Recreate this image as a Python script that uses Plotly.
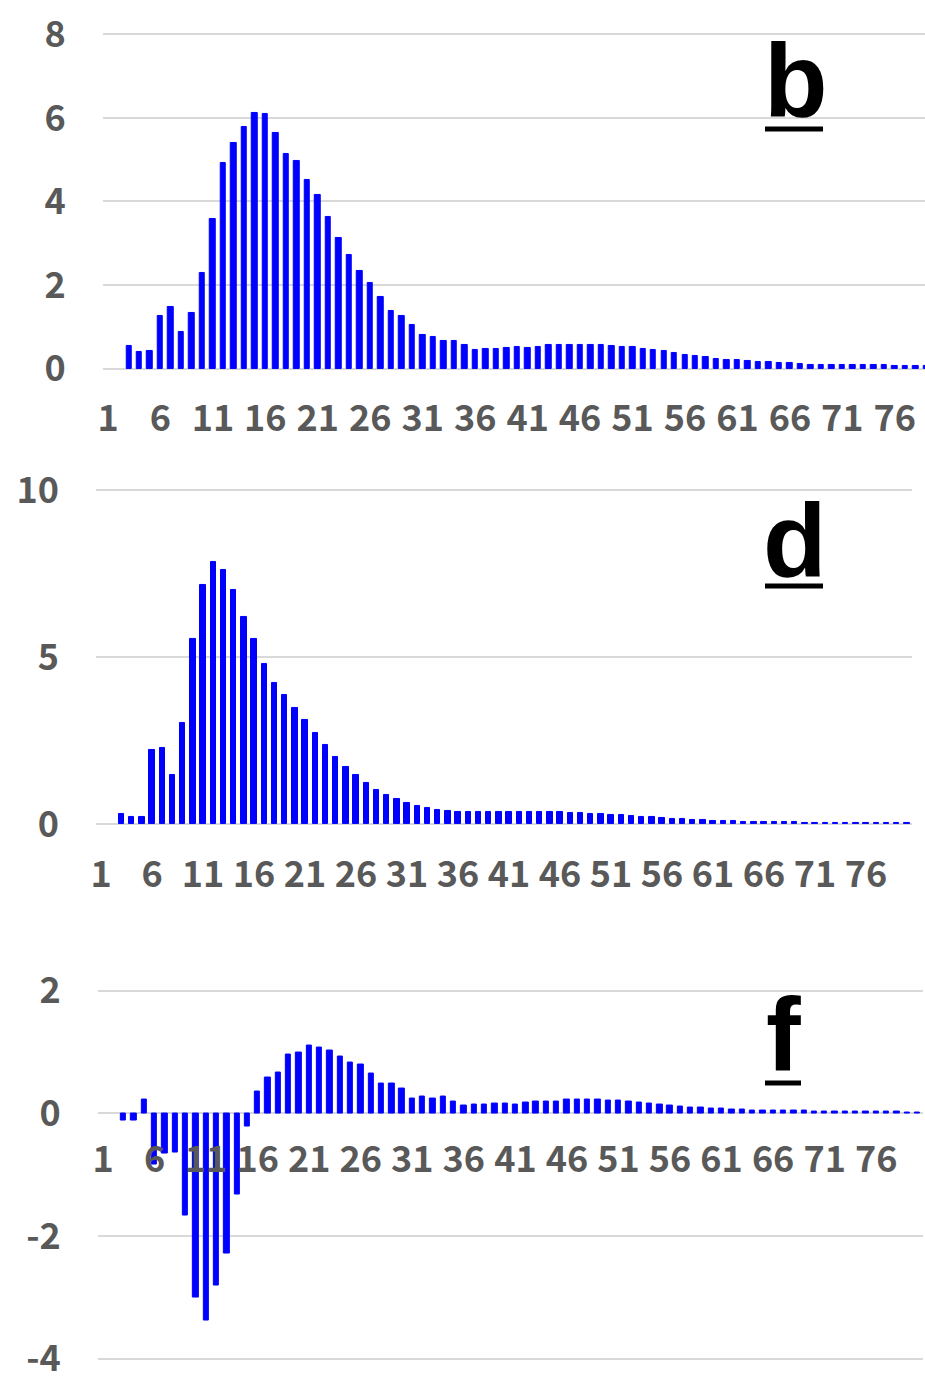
import plotly.graph_objects as go

# Category positions 1..80 and labelled ticks every fifth category
categories = list(range(1, 81))
tick_values = list(range(1, 80, 5))

b_values = [None, None, 0.54, 0.39, 0.42, 1.27, 1.48, 0.89, 1.34, 2.28,
            3.58, 4.93, 5.39, 5.79, 6.13, 6.09, 5.65, 5.13, 4.96, 4.51,
            4.15, 3.64, 3.13, 2.72, 2.34, 2.04, 1.72, 1.38, 1.25, 1.05,
            0.81, 0.77, 0.67, 0.66, 0.56, 0.46, 0.48, 0.48, 0.50, 0.51,
            0.50, 0.53, 0.56, 0.56, 0.56, 0.58, 0.57, 0.57, 0.55, 0.53,
            0.51, 0.47, 0.44, 0.42, 0.37, 0.34, 0.30, 0.27, 0.24, 0.22,
            0.20, 0.18, 0.16, 0.15, 0.14, 0.13, 0.11, 0.10, 0.10, 0.10,
            0.10, 0.09, 0.09, 0.08, 0.08, 0.07, 0.07, 0.07, 0.07, 0.06]

d_values = [None, None, 0.30, 0.23, 0.22, 2.23, 2.28, 1.49, 3.04, 5.56,
            7.16, 7.85, 7.61, 7.01, 6.22, 5.54, 4.80, 4.23, 3.86, 3.49,
            3.12, 2.73, 2.37, 2.01, 1.71, 1.47, 1.24, 1.04, 0.87, 0.75,
            0.63, 0.54, 0.48, 0.42, 0.39, 0.36, 0.36, 0.36, 0.36, 0.36,
            0.36, 0.36, 0.36, 0.36, 0.36, 0.36, 0.35, 0.33, 0.32, 0.30,
            0.28, 0.27, 0.25, 0.23, 0.21, 0.19, 0.17, 0.15, 0.13, 0.12,
            0.11, 0.10, 0.09, 0.08, 0.07, 0.06, 0.06, 0.06, 0.06, 0.05,
            0.05, 0.05, 0.05, 0.05, 0.05, 0.04, 0.04, 0.04, 0.04, 0.04]

f_values = [None, None, -0.11, -0.11, 0.23, -0.84, -0.65, -0.64, -1.67, -3.00,
            -3.37, -2.80, -2.28, -1.33, -0.22, 0.35, 0.59, 0.67, 0.96, 0.99,
            1.11, 1.08, 1.03, 0.93, 0.83, 0.79, 0.65, 0.48, 0.48, 0.41,
            0.24, 0.28, 0.24, 0.27, 0.20, 0.12, 0.14, 0.15, 0.16, 0.16,
            0.14, 0.17, 0.19, 0.19, 0.20, 0.22, 0.22, 0.23, 0.22, 0.21,
            0.21, 0.19, 0.17, 0.16, 0.15, 0.12, 0.11, 0.09, 0.09, 0.08,
            0.07, 0.06, 0.06, 0.05, 0.05, 0.04, 0.04, 0.04, 0.04, 0.03,
            0.03, 0.03, 0.03, 0.03, 0.03, 0.03, 0.03, 0.03, 0.02, 0.02]

b_ticks = [0, 2, 4, 6, 8]
d_ticks = [0, 5, 10]
f_ticks = [-4, -2, 0, 2]
f_tick_text = ["-4", "-2", "0", "2"]

panel_labels = ["b", "d", "f"]

W, H = 925, 1382


def fx(px):
    return px / W


def fy(px):
    return 1 - px / H


def y_domain(zero_px, px_per_unit, lo, hi):
    # pixel rows of the range ends -> paper fractions
    return [fy(zero_px - lo * px_per_unit), fy(zero_px - hi * px_per_unit)]


BAR_BLUE = "#0000ff"
GRID = "#d9d9d9"
tick_font = dict(family="Noto Sans CJK JP", size=36, color="#595959", weight="bold")

fig = go.Figure()
for vals, xa, ya in [(b_values, "x", "y"), (d_values, "x2", "y2"), (f_values, "x3", "y3")]:
    fig.add_trace(go.Bar(
        x=categories, y=vals, xaxis=xa, yaxis=ya, width=0.52,
        marker=dict(color=BAR_BLUE, line=dict(color=BAR_BLUE, width=1)),
        showlegend=False, hoverinfo="x+y",
    ))

xcommon = dict(tickmode="array", tickvals=tick_values, showgrid=False, zeroline=False,
               showline=False, ticks="", tickfont=tick_font, ticklabelstandoff=22,
               fixedrange=True, automargin=False)
ycommon = dict(tickmode="array", showgrid=True, gridcolor=GRID, gridwidth=2, zeroline=False,
               showline=False, ticks="", tickfont=tick_font, ticklabelstandoff=36,
               fixedrange=True, automargin=False)

b_range = [-0.08, 8.08]
d_range = [-0.1, 10.1]
f_range = [-4.05, 2.05]

fig.update_layout(
    width=W, height=H,
    margin=dict(l=0, r=0, t=0, b=0, autoexpand=False),
    paper_bgcolor="white", plot_bgcolor="white",
    bargap=0,
    xaxis=dict(domain=[fx(102.75), 1.0], range=[0.5, 78.88], anchor="y", **xcommon),
    yaxis=dict(domain=y_domain(368.7, 41.8, *b_range), range=b_range, tickvals=b_ticks,
               anchor="x", **ycommon),
    xaxis2=dict(domain=[fx(96), fx(912)], range=[0.5, 80.5], anchor="y2", **xcommon),
    yaxis2=dict(domain=y_domain(824.3, 33.4, *d_range), range=d_range, tickvals=d_ticks,
                anchor="x2", **ycommon),
    xaxis3=dict(domain=[fx(97.85), fx(922.6)], range=[0.5, 80.5], anchor="free",
                position=fy(1113.3), **xcommon),
    yaxis3=dict(domain=y_domain(1113.3, 61.35, *f_range), range=f_range, tickvals=f_ticks,
                ticktext=f_tick_text, anchor="x3", **ycommon),
)

# Bold underlined panel letters
label_font = dict(family="Liberation Sans", size=104, color="black", weight="bold")
label_pos = [(796, 80, 765, 823, 129), (795, 540, 765, 823, 586), (783, 1034, 765, 801, 1083)]
for text, (cx, cy, ux0, ux1, uy) in zip(panel_labels, label_pos):
    fig.add_annotation(text=text, xref="paper", yref="paper", x=fx(cx), y=fy(cy),
                       xanchor="center", yanchor="middle", showarrow=False, font=label_font)
    fig.add_shape(type="line", xref="paper", yref="paper", x0=fx(ux0), x1=fx(ux1),
                  y0=fy(uy), y1=fy(uy), line=dict(color="black", width=5))

fig.write_html("out.html")
